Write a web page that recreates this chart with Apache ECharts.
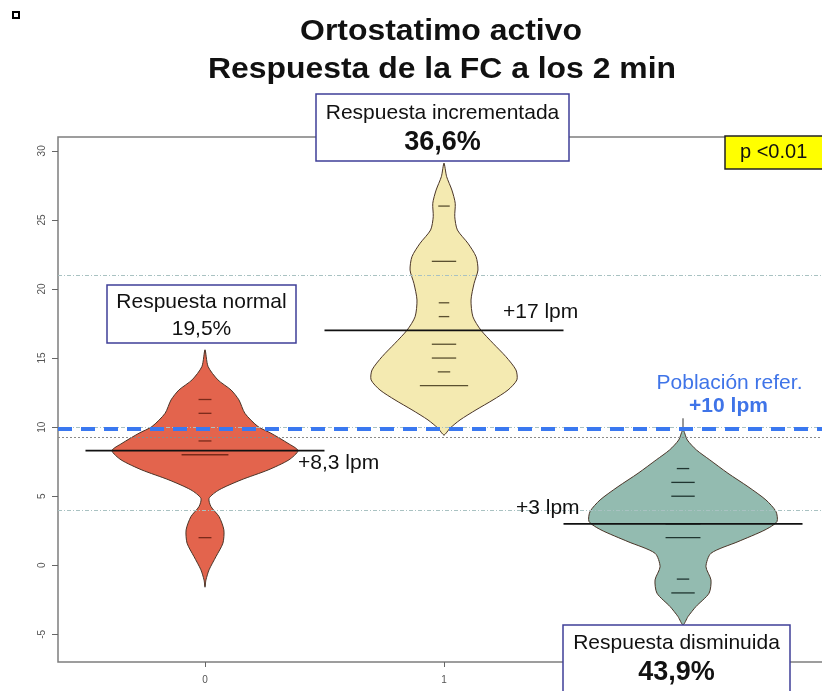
<!DOCTYPE html>
<html><head><meta charset="utf-8">
<script src="https://cdn.jsdelivr.net/npm/echarts@6/dist/echarts.min.js"></script>
<style>html,body{margin:0;padding:0;background:#fff}#c{width:822px;height:691px}</style>
</head><body><div id="c"></div>
<script>
// ---- data ----
const groupX = [0, 1, 2];
const groupLabels = ['0', '1', '2'];
const meanValues = [8.3, 17, 3];
const beanColors = ['#e3644d', '#f4eab1', '#93bbb0'];
const beanLineColors = ['#7a2a1a', '#5a5030', '#203530'];

// violin outlines (value, half-width in x units)
const outlineY0 = [15.59, 14.38, 13.42, 12.69, 11.97, 11.0, 10.04, 9.56, 8.83, 8.3, 7.63, 6.9, 6.18, 5.46, 4.85, 4.25, 3.52, 2.56, 1.6, 0.63, -0.33, -1.06, -1.54];
const outlineW0 = [0, .013, .054, .109, .142, .167, .222, .276, .347, .389, .351, .264, .151, .059, .017, .025, .059, .079, .075, .046, .017, .004, 0];
const outlineY1 = [29.1, 28.13, 27.16, 26.2, 25.23, 24.27, 23.31, 22.34, 21.37, 20.41, 19.2, 17.99, 17.03, 16.07, 15.1, 14.14, 13.42, 12.69, 11.97, 11.25, 10.52, 9.92, 9.44];
const outlineW1 = [0, .011, .033, .047, .045, .056, .100, .134, .142, .126, .113, .121, .154, .205, .259, .301, .305, .268, .205, .134, .067, .025, 0];
const outlineY2 = [9.8, 9.07, 8.35, 7.63, 6.66, 5.69, 4.73, 3.89, 3.16, 2.56, 1.71, 0.87, -0.1, -1.06, -2.02, -2.99, -3.71, -4.31];
const outlineW2 = [0, .018, .056, .112, .188, .272, .347, .389, .393, .343, .230, .117, .096, .117, .109, .054, .021, 0];

// individual observation lines (value, half-width)
const beanLineY0 = [12, 11, 9, 8, 2];
const beanLineW0 = [.027, .027, .027, .098, .027];
const beanLineY1 = [26, 22, 19, 18, 16, 15, 14, 13];
const beanLineW1 = [.024, .051, .022, .022, .051, .051, .026, .101];
const beanLineY2 = [7, 6, 5, 3, 2, -1, -2];
const beanLineW2 = [.026, .049, .049, .073, .073, .026, .049];

const stickTop = [15.6, 29.1, 10.64];
const stickBottom = [-1.6, 9.4, -4.3];

const dashDotRefs = [21, 10, 4];
const overallMean = 9.25;
const populationRef = 9.85;

const yTicks = [-5, 0, 5, 10, 15, 20, 25, 30];
const xTicks = [0, 1, 2];

// ---- build ----
const outlines = [[outlineY0, outlineW0], [outlineY1, outlineW1], [outlineY2, outlineW2]];
const beanLines = [[beanLineY0, beanLineW0], [beanLineY1, beanLineW1], [beanLineY2, beanLineW2]];

const chart = echarts.init(document.getElementById('c'), null, {renderer: 'canvas'});

const violinData = groupX.map((x, i) => [x, meanValues[i], i]);

const beanLineData = [];
beanLines.forEach((b, i) => b[0].forEach((y, k) => beanLineData.push([groupX[i], y, b[1][k], i])));

const FONT = 'Liberation Sans, Arial, sans-serif';

function boxText(x, y, text, size, weight, color, align) {
  return {type: 'text', z: 101, x: x, y: y, style: {text: text, font: (weight || 'normal') + ' ' + size + 'px ' + FONT,
    fill: color || '#111', textAlign: align || 'center', textVerticalAlign: 'middle'}};
}

const option = {
  animation: false,
  backgroundColor: '#fff',
  grid: {left: 58, top: 137, width: 772, bottom: 29, outerBoundsMode: 'none', show: true, borderColor: '#7d7d7d', borderWidth: 1.5, backgroundColor: 'transparent'},
  xAxis: {
    type: 'value', min: -0.615, max: 2.615,
    axisLine: {show: false, onZero: false},
    splitLine: {show: false},
    axisTick: {show: true, customValues: xTicks, length: 5, lineStyle: {color: '#666'}},
    axisLabel: {customValues: xTicks, formatter: v => groupLabels[groupX.indexOf(v)], fontSize: 10, color: '#555', margin: 13, fontFamily: FONT}
  },
  yAxis: {
    type: 'value', min: -7, max: 31,
    axisLine: {show: false, onZero: false},
    splitLine: {show: false},
    axisTick: {show: true, customValues: yTicks, length: 6, lineStyle: {color: '#666'}},
    axisLabel: {customValues: yTicks, rotate: 90, fontSize: 10, color: '#555', margin: 11, fontFamily: FONT}
  },
  series: [
    { // center sticks
      type: 'custom', z: 1, silent: true,
      data: violinData,
      renderItem: (params, api) => {
        const i = api.value(2);
        const p1 = api.coord([api.value(0), stickTop[i]]);
        const p2 = api.coord([api.value(0), stickBottom[i]]);
        return {type: 'line', shape: {x1: p1[0], y1: p1[1], x2: p2[0], y2: p2[1]}, style: {stroke: '#333', lineWidth: 1}};
      },
      markLine: {
        silent: true, symbol: 'none', z: 6, label: {show: false},
        data: [
          ...dashDotRefs.map(v => ({yAxis: v, lineStyle: {color: '#a9c2c2', width: 1, type: [4, 2, 1, 2]}})),
          {yAxis: overallMean, lineStyle: {color: '#8a8a8a', width: 1, type: [2, 2]}},
          {yAxis: populationRef, lineStyle: {color: '#3a78f0', width: 4, type: [14, 9]}}
        ]
      }
    },
    { // violins
      type: 'custom', z: 2, silent: true,
      data: violinData,
      renderItem: (params, api) => {
        const i = api.value(2);
        const x = api.value(0);
        const ys = outlines[i][0], ws = outlines[i][1];
        const pts = [];
        for (let k = 0; k < ys.length; k++) pts.push(api.coord([x - ws[k], ys[k]]));
        for (let k = ys.length - 2; k >= 1; k--) pts.push(api.coord([x + ws[k], ys[k]]));
        return {type: 'polygon', shape: {points: pts, smooth: 0.25}, style: {fill: beanColors[i], stroke: '#4a3528', lineWidth: 1}};
      }
    },
    { // bean lines
      type: 'custom', z: 3, silent: true,
      data: beanLineData,
      renderItem: (params, api) => {
        const x = api.value(0), y = api.value(1), w = api.value(2), i = api.value(3);
        const p1 = api.coord([x - w, y]);
        const p2 = api.coord([x + w, y]);
        return {type: 'line', shape: {x1: p1[0], y1: p1[1], x2: p2[0], y2: p2[1]}, style: {stroke: beanLineColors[i], lineWidth: 1.3}};
      }
    },
    { // mean lines
      type: 'custom', z: 4, silent: true,
      data: violinData,
      renderItem: (params, api) => {
        const x = api.value(0), y = api.value(1);
        const p1 = api.coord([x - 0.5, y]);
        const p2 = api.coord([x + 0.5, y]);
        return {type: 'line', shape: {x1: p1[0], y1: p1[1], x2: p2[0], y2: p2[1]}, style: {stroke: '#111', lineWidth: 1.6}};
      }
    }
  ],
  graphic: [
    {type: 'rect', z: 100, shape: {x: 13, y: 12, width: 6, height: 6}, style: {fill: '#fff', stroke: '#000', lineWidth: 2}},
    {type: 'text', z: 101, x: 441, y: 32, scaleX: 1.1, style: {text: 'Ortostatimo activo', font: 'bold 29px ' + FONT, fill: '#111', textAlign: 'center', textVerticalAlign: 'middle'}},
    {type: 'text', z: 101, x: 442, y: 70, scaleX: 1.1, style: {text: 'Respuesta de la FC a los 2 min', font: 'bold 29px ' + FONT, fill: '#111', textAlign: 'center', textVerticalAlign: 'middle'}},

    {type: 'rect', z: 100, shape: {x: 107, y: 285, width: 189, height: 58}, style: {fill: '#fff', stroke: '#3f3f98', lineWidth: 1.5}},
    boxText(201.5, 302, 'Respuesta normal', 21),
    boxText(201.5, 329, '19,5%', 21),

    {type: 'rect', z: 100, shape: {x: 316, y: 94, width: 253, height: 67}, style: {fill: '#fff', stroke: '#3f3f98', lineWidth: 1.5}},
    boxText(442.5, 113, 'Respuesta incrementada', 21),
    boxText(442.5, 143, '36,6%', 27, 'bold'),

    {type: 'rect', z: 100, shape: {x: 563, y: 625, width: 227, height: 80}, style: {fill: '#fff', stroke: '#3f3f98', lineWidth: 1.5}},
    boxText(676.5, 643, 'Respuesta disminuida', 21),
    boxText(676.5, 673, '43,9%', 27, 'bold'),

    {type: 'rect', z: 100, shape: {x: 725, y: 136, width: 110, height: 33}, style: {fill: '#ffff00', stroke: '#222', lineWidth: 1.5}},
    boxText(740, 152, 'p <0.01', 20, 'normal', '#111', 'left'),

    boxText(298, 463, '+8,3 lpm', 21, 'normal', '#111', 'left'),
    boxText(503, 312, '+17 lpm', 21, 'normal', '#111', 'left'),
    boxText(516, 508, '+3 lpm', 21, 'normal', '#111', 'left'),
    boxText(729.5, 383, 'Población refer.', 21, 'normal', '#3f74e8'),
    boxText(728.5, 406, '+10 lpm', 21, 'bold', '#3f74e8')
  ]
};
chart.setOption(option);
</script>
</body></html>
